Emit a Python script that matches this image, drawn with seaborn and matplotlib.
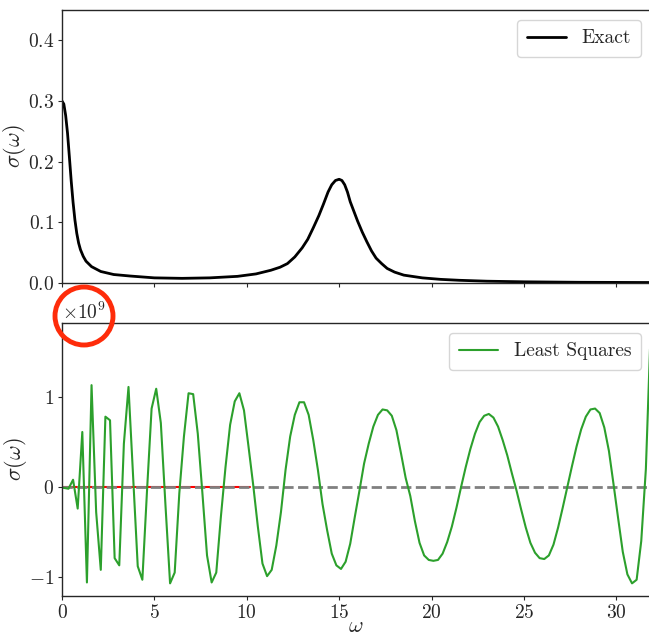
import numpy as np
import matplotlib
matplotlib.use("Agg")
import matplotlib.pyplot as plt
from matplotlib.patches import Ellipse
import seaborn as sns

# Exact spectral function
omega_exact = [0.0, 0.1, 0.2, 0.3, 0.4, 0.5, 0.6, 0.7, 0.8, 0.9, 1.0, 1.15, 1.3, 1.6,
               2.1, 2.8, 3.7, 5.0, 6.5, 8.0, 9.5, 10.5, 11.3, 11.8, 12.2, 12.6, 13.0,
               13.3, 13.6, 13.9, 14.15, 14.4, 14.6, 14.8, 15.0, 15.15, 15.3, 15.45,
               15.6, 15.8, 16.0, 16.25, 16.5, 16.75, 17.0, 17.3, 17.6, 18.0, 18.5,
               19.5, 20.5, 21.5, 23.0, 25.0, 28.0, 32.0]
sigma_exact = [0.300, 0.295, 0.276, 0.247, 0.208, 0.168, 0.133, 0.104, 0.082, 0.066,
               0.055, 0.044, 0.036, 0.027, 0.019, 0.014, 0.0115, 0.0085, 0.0077,
               0.0085, 0.011, 0.015, 0.021, 0.026, 0.032, 0.043, 0.058, 0.072, 0.091,
               0.111, 0.130, 0.150, 0.162, 0.169, 0.171, 0.169, 0.162, 0.150, 0.134,
               0.118, 0.102, 0.084, 0.068, 0.053, 0.041, 0.032, 0.024, 0.018, 0.013,
               0.0085, 0.006, 0.0045, 0.003, 0.002, 0.0012, 0.0008]

# Least squares reconstruction, in units of 1e9
omega_ls = np.linspace(0.1, 31.85, 128)
sigma_ls_e9 = [
    -0.01, -0.02, 0.08, -0.24, 0.61, -1.06, 1.13, -0.28, -0.92, 0.78,
    0.74, -0.79, -0.87, 0.48, 1.11, 0.12, -0.88, -1.03, -0.05, 0.87,
    1.09, 0.71, -0.20, -1.07, -0.95, -0.07, 0.56, 1.04, 1.03, 0.59,
    -0.07, -0.76, -1.06, -0.95, -0.33, 0.22, 0.69, 0.95, 1.04, 0.85,
    0.44, 0.02, -0.44, -0.85, -0.99, -0.92, -0.65, -0.28, 0.19, 0.56,
    0.80, 0.94, 0.94, 0.80, 0.52, 0.19, -0.19, -0.48, -0.74, -0.87,
    -0.91, -0.83, -0.63, -0.33, -0.04, 0.26, 0.48, 0.67, 0.80, 0.86,
    0.85, 0.79, 0.63, 0.37, 0.10, -0.10, -0.38, -0.62, -0.76, -0.81,
    -0.82, -0.81, -0.74, -0.61, -0.44, -0.23, 0.00, 0.22, 0.42, 0.59,
    0.72, 0.79, 0.81, 0.77, 0.67, 0.52, 0.35, 0.15, -0.04, -0.25,
    -0.45, -0.62, -0.73, -0.79, -0.80, -0.76, -0.64, -0.45, -0.23, 0.00,
    0.23, 0.45, 0.64, 0.78, 0.86, 0.87, 0.82, 0.66, 0.40, 0.03,
    -0.35, -0.72, -0.97, -1.07, -1.03, -0.60, 0.20, 1.69]
sigma_ls = np.array(sigma_ls_e9) * 1e9

# short red trace lying on zero
omega_red = [0.0, 10.2]
sigma_red = [0.0, 0.0]

sns.set_theme(style="ticks", rc={
    "axes.linewidth": 1.0,
    "xtick.major.size": 3, "ytick.major.size": 3,
    "xtick.major.width": 0.8, "ytick.major.width": 0.8,
    "xtick.major.pad": 2.5, "ytick.major.pad": 2.5,
})
plt.rcParams["font.family"] = ["serif"]
plt.rcParams["font.serif"] = ["cmr10", "DejaVu Serif"]
plt.rcParams["mathtext.fontset"] = "cm"
plt.rcParams["axes.formatter.use_mathtext"] = True
plt.rcParams["axes.unicode_minus"] = True

fs = 14
lfs = 16
fig = plt.figure(figsize=(6.49, 6.37), dpi=100)
ax1 = fig.add_axes([0.0955, 0.5557, 0.9068, 0.4286])
ax2 = fig.add_axes([0.0955, 0.0644, 0.9068, 0.4286], sharex=ax1)

sns.lineplot(x=omega_exact, y=sigma_exact, ax=ax1, color="black", lw=2, label="Exact")
ax1.set_ylim(0, 0.45)
ax1.set_yticks([0.0, 0.1, 0.2, 0.3, 0.4])
ax1.set_ylabel(r"$\sigma(\omega)$", fontsize=lfs, labelpad=0)
ax1.tick_params(labelsize=fs, labelbottom=False)
ax1.legend(loc="upper right", fontsize=fs, borderpad=0.5)

sns.lineplot(x=omega_red, y=sigma_red, ax=ax2, color="red", lw=1.5)
ax2.axhline(0, color="gray", ls="--", lw=2)
sns.lineplot(x=omega_ls, y=sigma_ls, ax=ax2, color="#2ca02c", lw=1.5,
             label="Least Squares", sort=False)
ax2.set_ylim(-1.21e9, 1.82e9)
ax2.set_yticks([-1e9, 0, 1e9])
ax2.set_xlim(0, 31.85)
ax2.set_xticks([0, 5, 10, 15, 20, 25, 30])
ax2.set_ylabel(r"$\sigma(\omega)$", fontsize=lfs, labelpad=0)
ax2.set_xlabel(r"$\omega$", fontsize=lfs, labelpad=-3.5)
ax2.tick_params(labelsize=fs)
ax2.yaxis.get_offset_text().set_fontsize(fs)
ax2.legend(loc="upper right", fontsize=fs, borderpad=0.5)

fig.align_ylabels([ax1, ax2])

# red ring highlighting the x10^9 multiplier
ring = Ellipse((84 / 649, 1 - 316 / 637), 58 / 649, 58 / 637, transform=fig.transFigure,
               fill=False, edgecolor="#fe2c0a", lw=3.5)
fig.add_artist(ring)

fig.savefig("out.png", dpi=100)
